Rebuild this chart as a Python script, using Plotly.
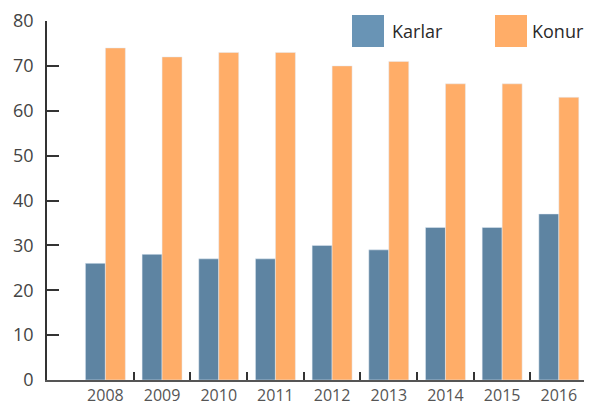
import plotly.graph_objects as go

# Données
annees = [2008, 2009, 2010, 2011, 2012, 2013, 2014, 2015, 2016]
karlar = [26, 28, 27, 27, 30, 29, 34, 34, 37]
konur = [74, 72, 73, 73, 70, 71, 66, 66, 63]
y_ticks = [0, 10, 20, 30, 40, 50, 60, 70, 80]

bleu = '#5e84a2'
orange = '#ffad68'

fig = go.Figure()
fig.add_trace(go.Bar(x=annees, y=karlar, name='Karlar', marker_color=bleu))
fig.add_trace(go.Bar(x=annees, y=konur, name='Konur', marker_color=orange))

# zone de tracé : 543 x 359 px (la page ajoute 8 px de marge)
larg, haut = 543, 359

# Légende dessinée à la main (grands carrés) : carré, début et fin du texte (px)
legende = [('Karlar', '#6994b5', 305, 398), ('Konur', orange, 448, 539)]
for nom, couleur, px0, px_fin in legende:
    x0 = px0 / larg
    fig.add_shape(type='rect', xref='paper', yref='paper',
                  x0=x0, x1=x0 + 32 / larg, y0=1 + 6 / haut, y1=1 - 26 / haut,
                  fillcolor=couleur, line_width=0)
    fig.add_annotation(text=nom, xref='paper', yref='paper',
                       x=px_fin / larg, y=1 - 10 / haut, xanchor='right', yanchor='middle',
                       showarrow=False, font=dict(size=18, color='#2a2a2a'))

fig.update_layout(
    width=584, height=395,
    margin=dict(l=39, r=2, t=13, b=23),
    plot_bgcolor='white', paper_bgcolor='white',
    barmode='group', bargap=0.295, bargroupgap=0,
    showlegend=False,
    font=dict(family='Open Sans', color='#444'),
)
fig.update_xaxes(
    automargin=False,
    range=[annees[0] - 1.03, annees[-1] + 0.55],
    tickvals=annees, ticktext=[str(a) for a in annees],
    ticks='', tickfont=dict(size=16, color='#555'),
    showgrid=False, zeroline=False,
    showline=True, linecolor='#555', linewidth=2,
    minor=dict(tickvals=[a + 0.5 for a in annees], ticks='inside',
               ticklen=8, tickwidth=1.5, tickcolor='#333', showgrid=False),
)
fig.update_yaxes(
    automargin=False,
    range=[0, 80], tickvals=y_ticks,
    ticks='inside', ticklen=12, tickwidth=1.5, tickcolor='#333',
    tickfont=dict(size=18, color='#444'), ticklabelstandoff=8,
    showgrid=False, zeroline=False,
    showline=True, linecolor='#333', linewidth=1.5,
)

fig.write_html('out.html')
